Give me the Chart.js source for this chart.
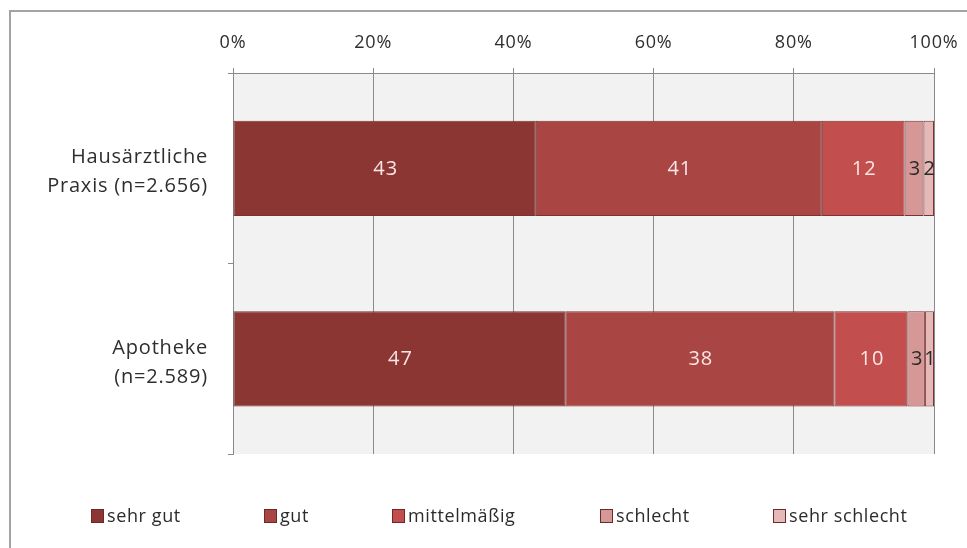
<!DOCTYPE html>
<html>
<head>
<meta charset="utf-8">
<script src="https://cdn.jsdelivr.net/npm/chart.js@4.4.1/dist/chart.umd.min.js"></script>
<style>
  html, body { margin: 0; padding: 0; background: #ffffff; }
  #wrap { position: relative; width: 967px; height: 548px; overflow: hidden; }
  #frame { position: absolute; left: 9px; top: 10px; width: 1000px; height: 600px; border: 2px solid #a3a3a3; box-sizing: border-box; }
  canvas { position: absolute; left: 0; top: 0; }
  .leg { position: absolute; top: 506px; font-family: "Open Sans", sans-serif; font-size: 18px; letter-spacing: 0.6px; color: #2b2b2b; line-height: 18px; white-space: nowrap; }
  .leg i { display: inline-block; width: 13px; height: 14px; margin-right: 3px; vertical-align: -1px; box-sizing: border-box; border: 1px solid #6b2a29; }
</style>
</head>
<body>
<div id="wrap">
  <div id="frame"></div>
  <canvas id="c" width="967" height="548"></canvas>
  <div id="legend"></div>
</div>
<script>
// ---- data ----
const categories = [["Hausärztliche", "Praxis (n=2.656)"], ["Apotheke", "(n=2.589)"]];
const seriesNames = ["sehr gut", "gut", "mittelmäßig", "schlecht", "sehr schlecht"];
const sehrGut      = [43.2, 47.4];
const gut          = [40.8, 38.4];
const mittelmaessig = [11.8, 10.4];
const schlecht     = [2.7, 2.5];
const sehrSchlecht = [1.5, 1.3];
const tickValues = [0, 20, 40, 60, 80, 100];

const seriesValues = [sehrGut, gut, mittelmaessig, schlecht, sehrSchlecht];
const colors = ["#8c3634", "#a94543", "#c24f4d", "#d59897", "#e6b9b9"];
const labelColors = ["#fbe6e6", "#fbe6e6", "#fbe6e6", "#2a2a2a", "#2a2a2a"];
const legendLeft = [91, 264, 392, 600, 773];

const FONT = "'Open Sans', sans-serif";

const plotBg = {
  id: 'plotBg',
  beforeDraw(chart) {
    const { ctx, chartArea: a } = chart;
    ctx.letterSpacing = '0.8px';
    ctx.save();
    ctx.fillStyle = '#f2f2f2';
    ctx.fillRect(a.left, a.top, a.right - a.left, a.bottom - a.top);
    ctx.restore();
  }
};

const valueLabels = {
  id: 'valueLabels',
  afterDatasetsDraw(chart) {
    const ctx = chart.ctx;
    ctx.save();
    ctx.letterSpacing = '1px';
    ctx.font = "20px " + FONT;
    ctx.textAlign = 'center';
    ctx.textBaseline = 'middle';
    chart.data.datasets.forEach((ds, di) => {
      const meta = chart.getDatasetMeta(di);
      meta.data.forEach((el, i) => {
        const cx = (el.x + el.base) / 2 + 1;
        ctx.fillStyle = labelColors[di];
        ctx.fillText(String(Math.round(ds.data[i])), cx, el.y + 1);
      });
    });
    ctx.restore();
  }
};

new Chart(document.getElementById('c'), {
  type: 'bar',
  data: {
    labels: categories,
    datasets: seriesNames.map((name, i) => ({
      label: name,
      data: seriesValues[i],
      backgroundColor: colors[i],
      borderColor: '#7a3332',
      borderWidth: 1,
      borderSkipped: false,
      categoryPercentage: 1.0,
      barPercentage: 0.5
    }))
  },
  options: {
    indexAxis: 'y',
    responsive: false,
    animation: false,
    devicePixelRatio: 1,
    layout: { padding: { left: 0, top: 0, right: 33, bottom: 94 } },
    plugins: {
      legend: { display: false },
      tooltip: { enabled: false }
    },
    scales: {
      x: {
        position: 'top',
        stacked: true,
        min: 0,
        max: 100,
        afterBuildTicks(scale) { scale.ticks = tickValues.map(v => ({ value: v })); },
        afterFit(scale) { scale.height = 73; scale.paddingRight = 0; scale.paddingLeft = 0; },
        ticks: {
          callback: v => v + '%',
          color: '#2e2e2e',
          font: { family: FONT, size: 18 },
          padding: 14,
          maxRotation: 0
        },
        grid: { color: '#8a8a8a', lineWidth: 1, tickLength: 5, drawTicks: true },
        border: { display: true, color: '#8a8a8a', width: 1 }
      },
      y: {
        stacked: true,
        afterFit(scale) { scale.width = 233; },
        ticks: {
          color: '#2e2e2e',
          font: { family: FONT, size: 20, lineHeight: 1.45 },
          padding: 20,
          labelOffset: 4
        },
        grid: { offset: true, drawOnChartArea: false, drawTicks: true, tickLength: 5, color: '#8a8a8a' },
        border: { display: true, color: '#8a8a8a', width: 1 }
      }
    }
  },
  plugins: [plotBg, valueLabels]
});

// HTML legend
const legend = document.getElementById('legend');
seriesNames.forEach((name, i) => {
  const d = document.createElement('div');
  d.className = 'leg';
  d.style.left = legendLeft[i] + 'px';
  const sw = document.createElement('i');
  sw.style.background = colors[i];
  d.appendChild(sw);
  d.appendChild(document.createTextNode(name));
  legend.appendChild(d);
});
</script>
</body>
</html>
